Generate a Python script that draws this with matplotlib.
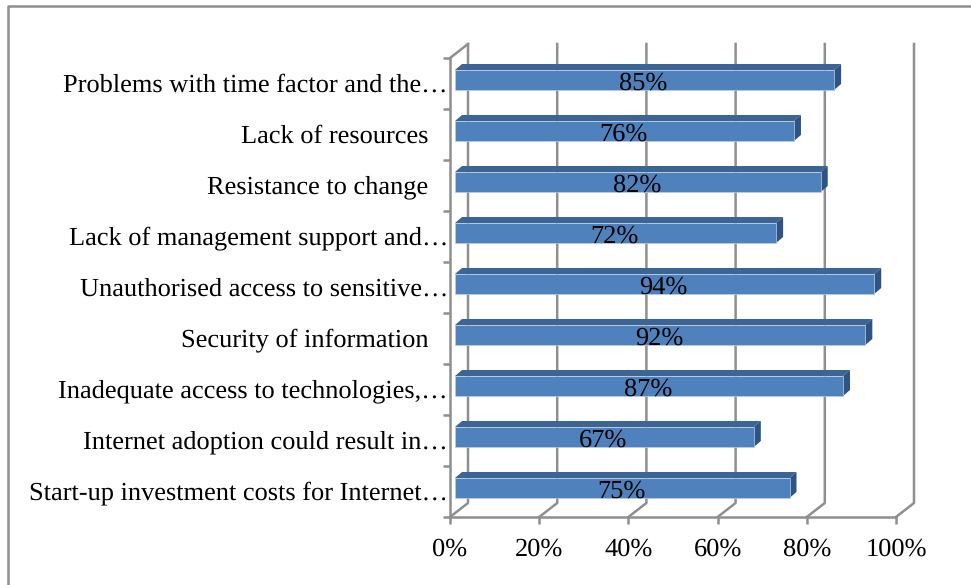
import matplotlib
matplotlib.use("Agg")
import matplotlib.pyplot as plt
from matplotlib.lines import Line2D
from matplotlib.patches import Polygon
from matplotlib.transforms import IdentityTransform, Affine2D

#data, top bar first
labels = ["Problems with time factor and the…", "Lack of resources   ", "Resistance to change   ",
          "Lack of management support and…", "Unauthorised access to sensitive…", "Security of information   ",
          "Inadequate access to technologies,…", "Internet adoption could result in…", "Start-up investment costs for Internet…"]
values = [85, 76, 82, 72, 94, 92, 87, 67, 75]
xticks = [0, 20, 40, 60, 80, 100]
xtick_labels = ["0%", "20%", "40%", "60%", "80%", "100%"]

W, H = 971, 585
GRAY = "#8f8f8f"
FS = 19
plt.rcParams["font.family"] = ["Liberation Serif", "DejaVu Serif"]
plt.rcParams["text.hinting"] = "no_hinting"

fig = plt.figure(figsize=(W / 100, H / 100), dpi=100, facecolor="white")
ax = fig.add_axes([450 / W, 1 - 517 / H, 446 / W, 459 / H])
ax.set_xlim(0, 100)
ax.set_ylim(len(values), 0)
ax.patch.set_visible(False)

for s in ["top", "right"]:
    ax.spines[s].set_visible(False)
for s in ["left", "bottom"]:
    ax.spines[s].set_color(GRAY)
    ax.spines[s].set_linewidth(1.8)

centers = [i + 0.5 for i in range(len(values))]
ax.set_xticks(xticks)
ax.set_xticklabels(xtick_labels, fontsize=FS)
ax.set_yticks(centers)
ax.set_yticklabels(labels, fontsize=FS)
ax.set_yticks(range(len(values) + 1), minor=True)
ax.tick_params(axis="y", which="major", length=0, pad=1.5)
ax.tick_params(axis="y", which="minor", length=5, width=1.8, color=GRAY)
ax.tick_params(axis="x", length=5, width=1.8, color=GRAY, pad=10)

#nudge category labels up a pixel
for lab in ax.get_yticklabels():
    lab.set_transform(lab.get_transform() + Affine2D().translate(0, 1))

fig.canvas.draw()
noop = IdentityTransform()

def px(x, y):
    return ax.transData.transform((x, y))

#back wall gridlines and floor diagonals
DX, DY = 18, 14
for t in xticks:
    x0, y0 = px(t, len(values))
    x1, y1 = px(t, 0)
    ax.add_line(Line2D([x0, x0 + DX, x0 + DX], [y0, y0 + DY, y1 + DY], color=GRAY, lw=1.8,
                       transform=noop, zorder=1, clip_on=False))
x1, y1 = px(0, 0)
ax.add_line(Line2D([x1, x1 + DX], [y1, y1 + DY], color=GRAY, lw=1.8, transform=noop, zorder=1, clip_on=False))

#3d looking bars
BAR_H = 20
for c, v in zip(centers, values):
    x0, yc = px(0, c)
    x1, _ = px(v, c)
    x0 += 5
    x1 += 5
    yb = yc + 3.5 - BAR_H / 2
    yt = yb + BAR_H
    ax.add_patch(Polygon([(x0, yt), (x0 + 7, yt + 6), (x1 + 7, yt + 6), (x1, yt)], facecolor="#3c6494",
                         edgecolor="none", transform=noop, zorder=3, clip_on=False))
    ax.add_patch(Polygon([(x1, yb), (x1 + 7, yb + 6), (x1 + 7, yt + 6), (x1, yt)], facecolor="#2f5382",
                         edgecolor="none", transform=noop, zorder=3, clip_on=False))
    ax.add_patch(Polygon([(x0, yb), (x1, yb), (x1, yt), (x0, yt)], facecolor="#4f81bd",
                         edgecolor="#b9cde5", linewidth=0.5, transform=noop, zorder=4, clip_on=False))
    ax.text((x0 + x1) / 2 - 1, yc + 0.5, f"{v}%", ha="center", va="center", fontsize=FS,
            color="black", transform=noop, zorder=5)

#chart border, only top and left show
fig.add_artist(Line2D([7.5 / W, 7.5 / W, 1], [0, 1 - 5.5 / H, 1 - 5.5 / H], color=GRAY, lw=1.8))

fig.savefig("out.png", dpi=100, facecolor="white")
